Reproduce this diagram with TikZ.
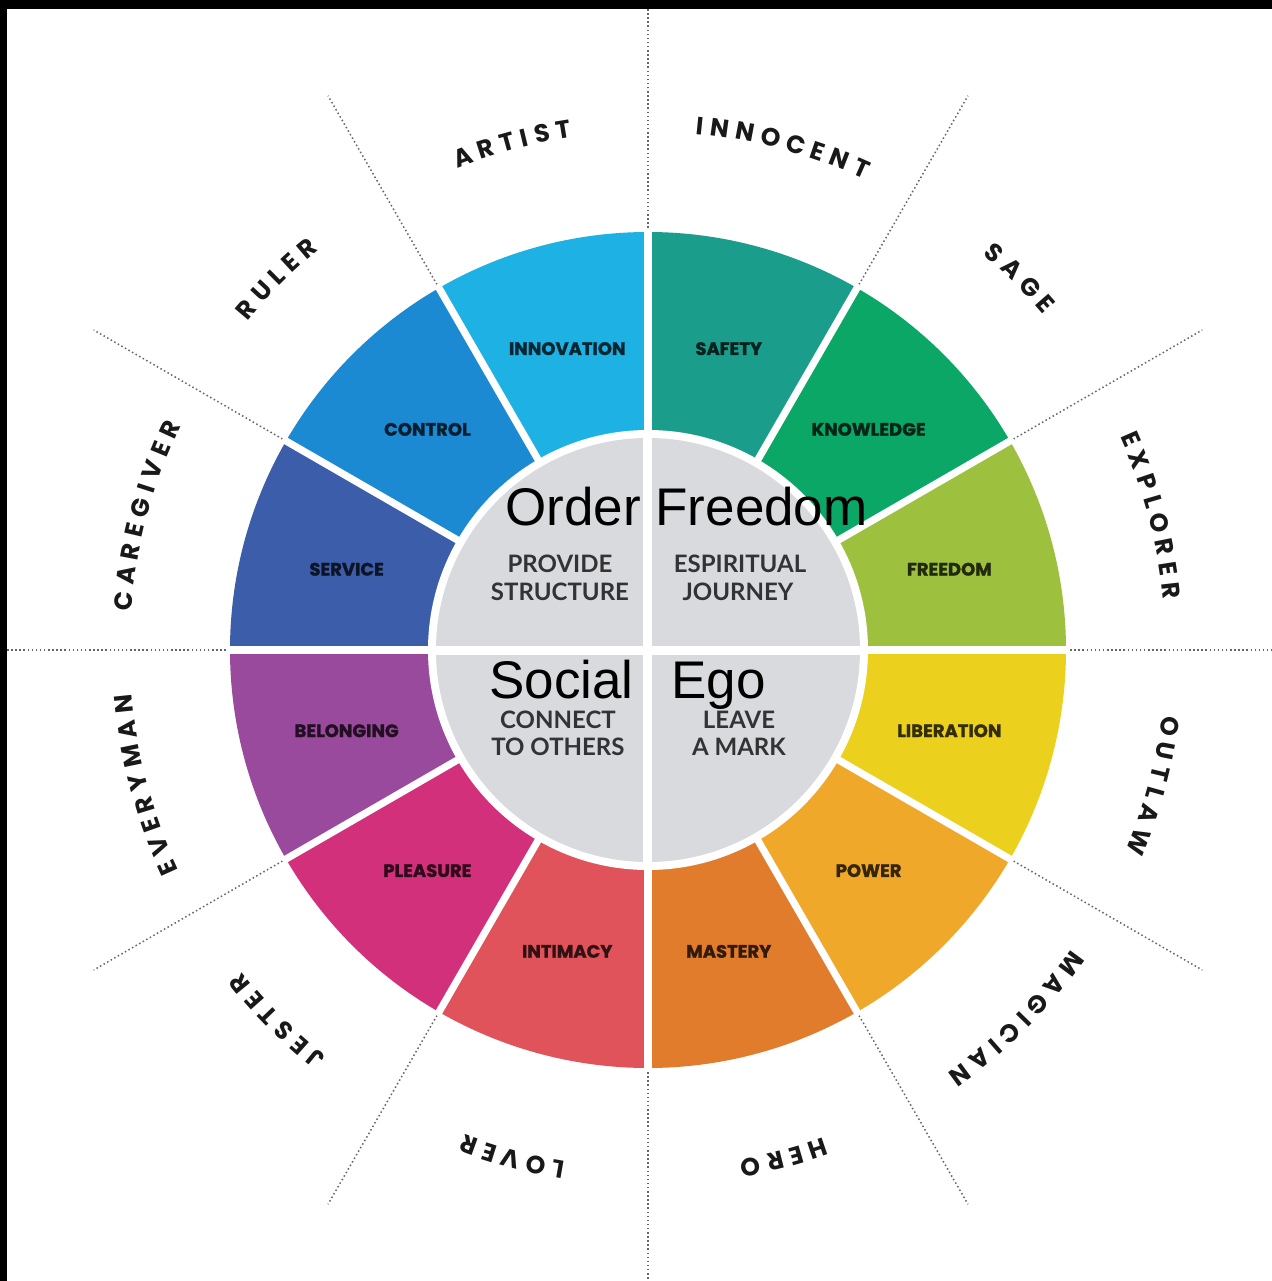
\documentclass[tikz,border=0pt]{standalone}
\usepackage{fontspec}
\setmainfont{Lato}
\newfontfamily\segfont{Poppins}[BoldFeatures={FakeBold=1.5}]
\newfontfamily\outfont{Poppins}
\newfontfamily\arialfont{Liberation Sans}
\definecolor{cInnov}{HTML}{1DB1E4}
\definecolor{cControl}{HTML}{1B8AD2}
\definecolor{cService}{HTML}{3C5DA9}
\definecolor{cBelong}{HTML}{994A9D}
\definecolor{cPleasure}{HTML}{D2307B}
\definecolor{cIntimacy}{HTML}{E0535A}
\definecolor{cMastery}{HTML}{E27C2D}
\definecolor{cPower}{HTML}{EFA829}
\definecolor{cLiber}{HTML}{EBD11D}
\definecolor{cFreedom}{HTML}{9DC03F}
\definecolor{cKnow}{HTML}{0AA767}
\definecolor{cSafety}{HTML}{1B9D8B}
\definecolor{cInner}{HTML}{D9DADD}
\definecolor{cInnerText}{HTML}{333335}
\definecolor{cDots}{HTML}{666666}
\tikzset{
  arcletter/.style={inner sep=0pt, anchor=center, text=black!90,
    font=\outfont\bfseries\fontsize{12.5}{13}\selectfont},
  seglabel/.style={inner sep=0pt, anchor=center,
    font=\segfont\bfseries\fontsize{9}{10}\selectfont},
  innertext/.style={inner sep=0pt, anchor=base, text=cInnerText,
    font=\bfseries\fontsize{12}{14}\selectfont},
  bigtext/.style={inner sep=0pt, anchor=base west, text=black,
    font=\arialfont\fontsize{26.5}{30}\selectfont},
  dotline/.style={draw=cDots, line width=0.75pt, dash pattern=on 0.75pt off 1.3pt},
  gapline/.style={draw=white, line width=3.6pt},
}
\newcommand\arctrack{3.4}
\newcommand\arcword[3]{%
  \begingroup\outfont\bfseries\fontsize{12.5}{13}\selectfont
  \xdef\arcsum{0}\xdef\arcnum{0}%
  \foreach \ch in {#3}{%
    \pgfmathwidth{"\ch"}%
    \pgfmathsetmacro\tmpa{\arcsum+\pgfmathresult}\xdef\arcsum{\tmpa}%
    \pgfmathsetmacro\tmpa{\arcnum+1}\xdef\arcnum{\tmpa}%
  }%
  \pgfmathsetmacro\arclen{\arcsum+\arctrack*(\arcnum-1)}%
  \xdef\arcpos{0}%
  \foreach \ch [count=\i] in {#3}{%
    \pgfmathwidth{"\ch"}\let\w\pgfmathresult
    \pgfmathsetmacro\ang{#2+(\arclen/2-\arcpos-\w/2)/263.5*57.2958}%
    \node[arcletter, rotate=\ang-90] (#1-\i) at (\ang:527) {\ch};
    \pgfmathsetmacro\tmpa{\arcpos+\w+\arctrack}\xdef\arcpos{\tmpa}%
  }%
  \endgroup}
\begin{document}
\begin{tikzpicture}[x=0.5pt,y=0.5pt]
\useasboundingbox (-648,-631) rectangle (624,650);
\fill[white] (-648,-631) rectangle (624,650);
% black frame edges
\fill[black] (-648,641) rectangle (624,650);
\fill[black] (-648,-631) rectangle (-641,650);
% dotted radial lines
\draw[dotline] (0,418) -- (0,641);
\draw[dotline] (0,-418) -- (0,-631);
\draw[dotline] (-418,0) -- (-641,0);
\draw[dotline] (418,0) -- (624,0);
\foreach \a in {30,60,120,150,210,240,300,330}
  \draw[dotline] (\a:418) -- (\a:640);
% coloured sectors
\foreach \a/\c in {90/cInnov,120/cControl,150/cService,180/cBelong,210/cPleasure,
  240/cIntimacy,270/cMastery,300/cPower,330/cLiber,0/cFreedom,30/cKnow,60/cSafety}
  \fill[\c] (0,0) -- (\a:418) arc[start angle=\a, end angle=\a+30, radius=418] -- cycle;
\foreach \a in {0,30,...,330}
  \draw[gapline] (0,0) -- (\a:422);
\fill[white] (0,0) circle (220);
\fill[cInner] (0,0) circle (212);
\draw[white, line width=4.5pt] (-214,0) -- (214,0);
\draw[white, line width=4.5pt] (0,-214) -- (0,214);
% segment labels
\foreach \n/\a/\t/\c in {innov/105/INNOVATION/cInnov, control/135/CONTROL/cControl,
  service/165/SERVICE/cService, belong/195/BELONGING/cBelong,
  pleasure/225/PLEASURE/cPleasure, intimacy/255/INTIMACY/cIntimacy,
  mastery/285/MASTERY/cMastery, power/315/POWER/cPower,
  liber/345/LIBERATION/cLiber, freedom/15/FREEDOM/cFreedom,
  know/45/KNOWLEDGE/cKnow, safety/75/SAFETY/cSafety}
  \node[seglabel, text=\c!22!black] (seg-\n) at (\a:312) {\t};
% inner quadrant texts
\node[innertext] (prov1) at (-88,78) {PROVIDE};
\node[innertext] (prov2) at (-88,50) {STRUCTURE};
\node[innertext] (esp1) at (92,78) {ESPIRITUAL};
\node[innertext] (esp2) at (90,50) {JOURNEY};
\node[innertext] (con1) at (-90,-78) {CONNECT};
\node[innertext] (con2) at (-90,-105) {TO OTHERS};
\node[innertext] (lea1) at (91,-78) {LEAVE};
\node[innertext] (lea2) at (91,-105) {A MARK};
% overlay words
\node[bigtext] (order) at (-143,125) {Order Freedom};
\node[bigtext] (social) at (-159,-48) {Social};
\node[bigtext] (ego) at (23,-48) {Ego};
% outer archetype labels
\arcword{artist}{105}{A,R,T,I,S,T}
\arcword{innocent}{75}{I,N,N,O,C,E,N,T}
\arcword{sage}{45}{S,A,G,E}
\arcword{explorer}{15}{E,X,P,L,O,R,E,R}
\arcword{outlaw}{-15}{O,U,T,L,A,W}
\arcword{magician}{-45}{M,A,G,I,C,I,A,N}
\arcword{hero}{-75}{H,E,R,O}
\arcword{lover}{-105}{L,O,V,E,R}
\arcword{jester}{-135}{J,E,S,T,E,R}
\arcword{everyman}{-165}{E,V,E,R,Y,M,A,N}
\arcword{caregiver}{165}{C,A,R,E,G,I,V,E,R}
\arcword{ruler}{135}{R,U,L,E,R}
\end{tikzpicture}
\end{document}
